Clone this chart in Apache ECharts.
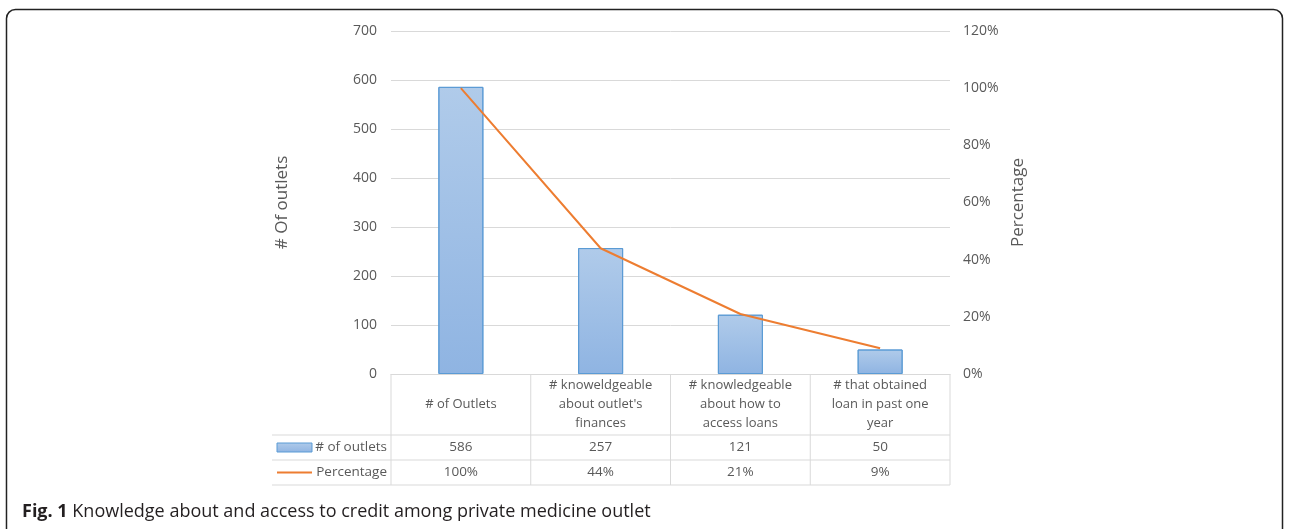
<!DOCTYPE html>
<html>
<head>
<meta charset="utf-8">
<script src="https://cdn.jsdelivr.net/npm/echarts@6/dist/echarts.min.js"></script>
<style>
html, body { margin: 0; padding: 0; background: #fff; }
#main { width: 1289px; height: 529px; }
</style>
</head>
<body>
<div id="main"></div>
<script>
// categories (header row of the data table)
var categories = [
    "# of Outlets",
    "# knoweldgeable\nabout outlet's\nfinances",
    "# knowledgeable\nabout how to\naccess loans",
    "# that obtained\nloan in past one\nyear"
];
var outlets = [586, 257, 121, 50];
var percentage = [1.00, 0.44, 0.21, 0.09];
var countTicks = [0, 100, 200, 300, 400, 500, 600, 700];
var pctTicks = [0, 0.2, 0.4, 0.6, 0.8, 1.0, 1.2];
var seriesNames = ["# of outlets", "Percentage"];
var caption = ["Fig. 1", "Knowledge about and access to credit among private medicine outlet"];

var FONT = "'Open Sans', sans-serif";
var GREY = '#595959';
var LINE = '#d9d9d9';

var chart = echarts.init(document.getElementById('main'));

var option = {
    animation: false,
    textStyle: { fontFamily: FONT },
    grid: { left: 391, right: 339, top: 31, bottom: 155 },
    xAxis: {
        type: 'category',
        data: categories,
        axisLine: { show: true, lineStyle: { color: LINE, width: 1 } },
        axisTick: { show: false },
        axisLabel: {
            interval: 0,
            margin: 2,
            color: GREY,
            fontSize: 13,
            lineHeight: 19,
            fontFamily: FONT,
            formatter: function (v) {
                return v.indexOf('\n') < 0 ? '\n' + v : v;
            }
        }
    },
    yAxis: [{
        type: 'value',
        min: countTicks[0],
        max: countTicks[countTicks.length - 1],
        interval: 100,
        name: '# Of outlets',
        nameLocation: 'middle',
        nameGap: 100,
        nameTextStyle: { color: GREY, fontSize: 17, fontFamily: FONT },
        axisLine: { show: false },
        axisTick: { show: false },
        axisLabel: { color: GREY, fontSize: 14, margin: 14, fontFamily: FONT },
        splitLine: { lineStyle: { color: LINE, width: 1 } }
    }, {
        type: 'value',
        min: pctTicks[0],
        max: pctTicks[pctTicks.length - 1],
        interval: 0.2,
        name: 'Percentage',
        nameLocation: 'middle',
        nameGap: 60,
        nameTextStyle: { color: GREY, fontSize: 17, fontFamily: FONT },
        axisLine: { show: false },
        axisTick: { show: false },
        splitLine: { show: false },
        axisLabel: {
            color: GREY, fontSize: 14, margin: 13, fontFamily: FONT,
            formatter: function (v) { return Math.round(v * 100) + '%'; }
        }
    }],
    series: [{
        name: seriesNames[0],
        type: 'bar',
        data: outlets,
        barWidth: 45,
        itemStyle: {
            color: new echarts.graphic.LinearGradient(0, 0, 0, 1, [
                { offset: 0, color: '#b0cbea' },
                { offset: 1, color: '#8fb4e2' }
            ]),
            borderColor: '#5b9bd5',
            borderWidth: 1
        }
    }, {
        name: seriesNames[1],
        type: 'line',
        yAxisIndex: 1,
        data: percentage,
        symbol: 'none',
        lineStyle: { color: '#ed7d31', width: 2 }
    }]
};
chart.setOption(option);

//-----------------------------------------data table-----------------------------------------
function buildTable() {
    var g = [];
    var top = chart.convertToPixel({ yAxisIndex: 0 }, 0);
    var centers = categories.map(function (c, i) {
        return chart.convertToPixel({ xAxisIndex: 0 }, i);
    });
    var band = centers.length > 1 ? centers[1] - centers[0] : 140;
    var left = centers[0] - band / 2;
    var right = centers[centers.length - 1] + band / 2;
    var rowH = 25;
    var headBottom = top + 61;
    var rowsBottom = headBottom + rowH * 2;
    var legendLeft = 272;

    function hline(x1, x2, y) {
        g.push({ type: 'line', shape: { x1: x1, y1: y, x2: x2, y2: y }, style: { stroke: LINE, lineWidth: 1 }, silent: true });
    }
    function vline(x, y1, y2) {
        g.push({ type: 'line', shape: { x1: x, y1: y1, x2: x, y2: y2 }, style: { stroke: LINE, lineWidth: 1 }, silent: true });
    }
    hline(legendLeft, right, headBottom);
    hline(legendLeft, right, headBottom + rowH);
    hline(legendLeft, right, rowsBottom);
    for (var i = 0; i <= centers.length; i++) {
        vline(left + band * i, top, rowsBottom);
    }

    var rows = [
        { name: seriesNames[0], values: outlets.map(String) },
        { name: seriesNames[1], values: percentage.map(function (p) { return Math.round(p * 100) + '%'; }) }
    ];
    rows.forEach(function (r, ri) {
        var cy = headBottom + rowH * ri + rowH / 2;
        r.values.forEach(function (v, ci) {
            g.push({
                type: 'text', x: centers[ci], y: cy, silent: true,
                style: { text: v, fill: GREY, font: '13.5px ' + FONT, align: 'center', verticalAlign: 'middle' }
            });
        });
        g.push({
            type: 'text', x: left - 4, y: cy, silent: true,
            style: { text: r.name, fill: GREY, font: '13.5px ' + FONT, align: 'right', verticalAlign: 'middle' }
        });
    });
    // legend keys
    var keyX1 = 277, keyX2 = 312;
    var cy0 = headBottom + rowH / 2;
    g.push({
        type: 'rect', silent: true,
        shape: { x: keyX1, y: cy0 - 4.5, width: keyX2 - keyX1, height: 9 },
        style: {
            fill: new echarts.graphic.LinearGradient(0, 0, 0, 1, [
                { offset: 0, color: '#b0cbea' }, { offset: 1, color: '#8fb4e2' }
            ]),
            stroke: '#5b9bd5', lineWidth: 1
        }
    });
    var cy1 = headBottom + rowH * 1.5;
    g.push({
        type: 'line', silent: true,
        shape: { x1: keyX1, y1: cy1, x2: keyX2, y2: cy1 },
        style: { stroke: '#ed7d31', lineWidth: 2 }
    });

    // outer frame
    g.push({
        type: 'rect', silent: true,
        shape: { x: 6.5, y: 9.5, width: 1276, height: 540, r: 9 },
        style: { fill: 'none', stroke: '#222', lineWidth: 1.5 }
    });
    // caption
    g.push({
        type: 'text', x: 22, y: 512, silent: true,
        style: {
            text: '{b|' + caption[0] + '} ' + caption[1],
            verticalAlign: 'middle',
            font: '18px ' + FONT,
            fill: '#231f20',
            rich: {
                b: { fontWeight: 'bold', fontSize: 18, fontFamily: FONT, fill: '#231f20' }
            }
        }
    });
    chart.setOption({ graphic: g });
}
buildTable();
</script>
</body>
</html>
